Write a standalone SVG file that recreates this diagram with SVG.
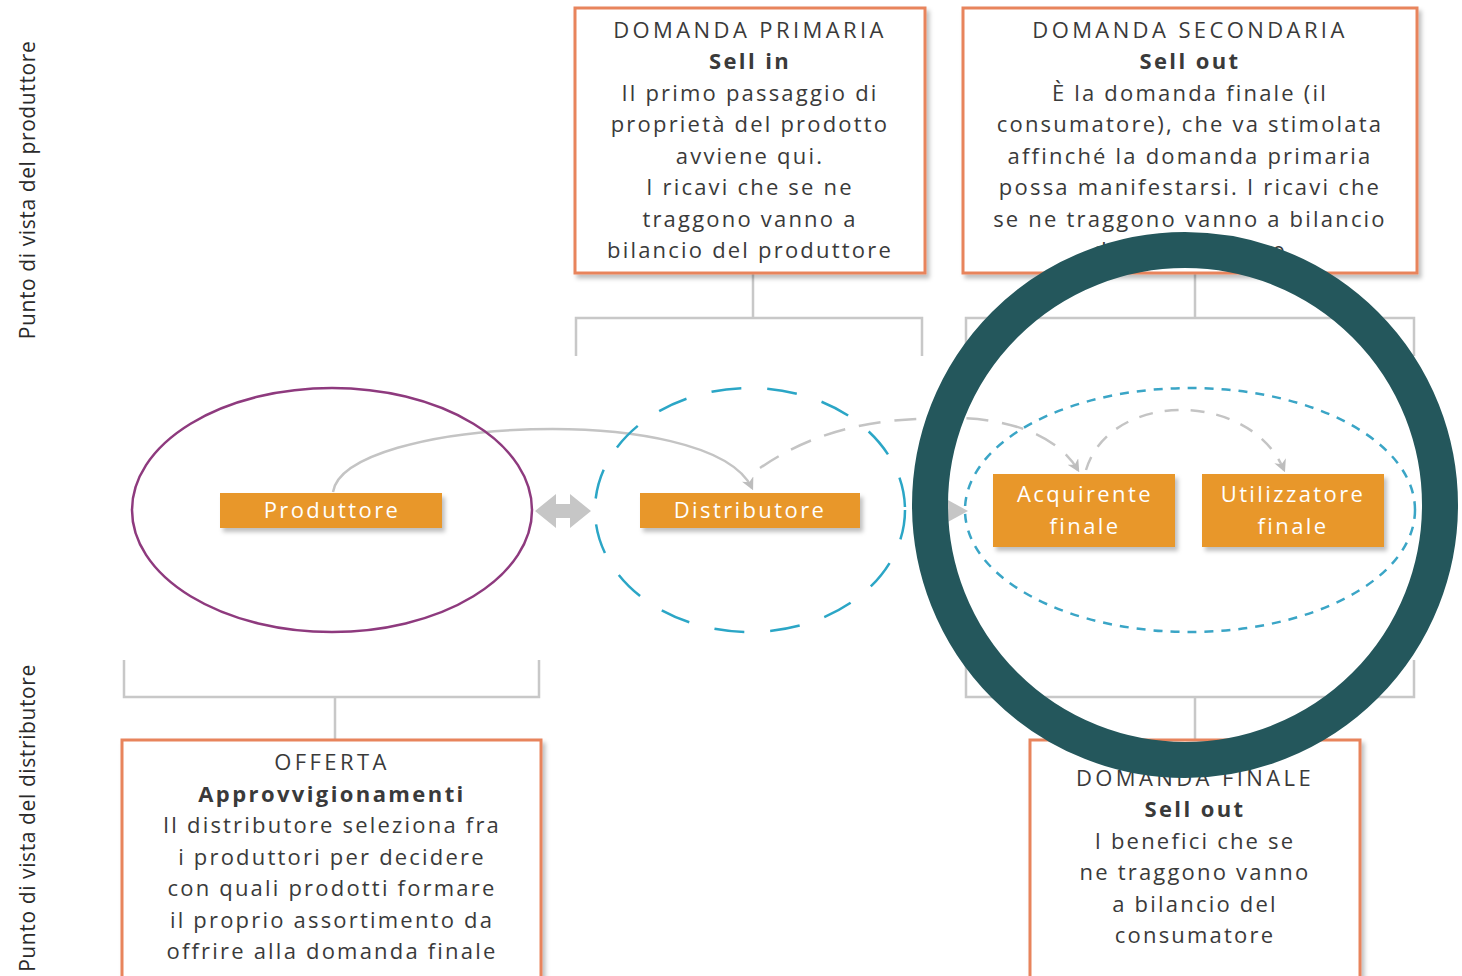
<svg xmlns="http://www.w3.org/2000/svg" width="1462" height="976" viewBox="0 0 1462 976">
<defs>
<style>
.bx{fill:#fff;stroke:#E8845C;stroke-width:3}
.t{font-family:"Open Sans","Noto Sans",sans-serif;font-size:22px;fill:#3a3a3a;text-anchor:middle;letter-spacing:2.2px}
.h{letter-spacing:3.4px}
.b{font-weight:bold;letter-spacing:2.4px}
.o{fill:#E8972B}
.ot{font-family:"Open Sans","Noto Sans",sans-serif;font-size:22px;fill:#fff;text-anchor:middle;letter-spacing:2.4px}
.br{fill:none;stroke:#c8c8c8;stroke-width:2.5}
.side{font-family:"Open Sans","Noto Sans",sans-serif;font-size:21px;fill:#2a2a2a;text-anchor:middle;letter-spacing:0.6px}
.ga{fill:none;stroke:#c4c4c4;stroke-width:2.5}
</style>
<filter id="sh" x="-10%" y="-10%" width="130%" height="140%"><feDropShadow dx="3" dy="4" stdDeviation="2" flood-color="#000" flood-opacity="0.25"/></filter>
<marker id="ah" viewBox="0 0 10 10" refX="8" refY="5" markerWidth="5" markerHeight="5" orient="auto"><path d="M0,0 L10,5 L0,10 L3,5 z" fill="#bdbdbd"/></marker>
</defs>
<rect width="1462" height="976" fill="#fff"/>

<g id="side-labels">
<text class="side" transform="translate(35,190) rotate(-90)">Punto di vista del produttore</text>
<text class="side" transform="translate(35,818) rotate(-90)">Punto di vista del distributore</text>
</g>

<g id="connectors">
<path class="br" d="M753,273 V318 M576,356 V318 H922 V356"/>
<path class="br" d="M1195,273 V318 M966,356 V318 H1414 V356"/>
<path class="br" d="M124,660 V697 H539 V660 M335,697 V740"/>
<path class="br" d="M966,660 V697 H1414 V660 M1195,697 V740"/>
<path class="ga" d="M333,492 C345,418 710,400 752,488" marker-end="url(#ah)"/>
<path class="ga" stroke-dasharray="22,14" d="M760,468 C830,420 900,418 960,418 C1020,420 1060,440 1078,470" marker-end="url(#ah)"/>
<path class="ga" stroke-dasharray="14,12" d="M1086,470 C1110,390 1250,390 1284,470" marker-end="url(#ah)"/>
<path d="M535,511 L556,494 L556,504 L570,504 L570,494 L591,511 L570,528 L570,518 L556,518 L556,528 Z" fill="#c6c6c6"/>
<path d="M935,493 L968,511 L935,529 Z" fill="#c6c6c6"/>
</g>

<g id="ellipses">
<ellipse cx="332" cy="510" rx="200" ry="122" fill="none" stroke="#8E3A7E" stroke-width="2.5"/>
<ellipse cx="750" cy="510" rx="155" ry="122" fill="none" stroke="#2BA6C6" stroke-width="2.5" stroke-dasharray="30,26"/>
<ellipse cx="1190" cy="510" rx="225" ry="122" fill="none" stroke="#3AA5C6" stroke-width="2.5" stroke-dasharray="9,8"/>
</g>

<g id="domanda-primaria">
<rect class="bx" x="575" y="8" width="350" height="265" filter="url(#sh)"/>
<text class="t h" x="750" y="38">DOMANDA PRIMARIA</text>
<text class="t b" x="750" y="69">Sell in</text>
<text class="t" x="750" y="101">Il primo passaggio di</text>
<text class="t" x="750" y="132">proprietà del prodotto</text>
<text class="t" x="750" y="164">avviene qui.</text>
<text class="t" x="750" y="195">I ricavi che se ne</text>
<text class="t" x="750" y="227">traggono vanno a</text>
<text class="t" x="750" y="258">bilancio del produttore</text>
</g>

<g id="domanda-secondaria">
<rect class="bx" x="963" y="8" width="454" height="265" filter="url(#sh)"/>
<text class="t h" x="1190" y="38">DOMANDA SECONDARIA</text>
<text class="t b" x="1190" y="69">Sell out</text>
<text class="t" x="1190" y="101">È la domanda finale (il</text>
<text class="t" x="1190" y="132">consumatore), che va stimolata</text>
<text class="t" x="1190" y="164">affinché la domanda primaria</text>
<text class="t" x="1190" y="195">possa manifestarsi. I ricavi che</text>
<text class="t" x="1190" y="227">se ne traggono vanno a bilancio</text>
<text class="t" x="1190" y="258">del distributore</text>
</g>

<g id="offerta">
<rect class="bx" x="122" y="740" width="419" height="250" filter="url(#sh)"/>
<text class="t h" x="332" y="770">OFFERTA</text>
<text class="t b" x="332" y="802">Approvvigionamenti</text>
<text class="t" x="332" y="833">Il distributore seleziona fra</text>
<text class="t" x="332" y="865">i produttori per decidere</text>
<text class="t" x="332" y="896">con quali prodotti formare</text>
<text class="t" x="332" y="928">il proprio assortimento da</text>
<text class="t" x="332" y="959">offrire alla domanda finale</text>
</g>

<g id="domanda-finale">
<rect class="bx" x="1030" y="740" width="330" height="250" filter="url(#sh)"/>
<text class="t h" x="1195" y="786">DOMANDA FINALE</text>
<text class="t b" x="1195" y="817">Sell out</text>
<text class="t" x="1195" y="849">I benefici che se</text>
<text class="t" x="1195" y="880">ne traggono vanno</text>
<text class="t" x="1195" y="912">a bilancio del</text>
<text class="t" x="1195" y="943">consumatore</text>
</g>

<g id="produttore">
<rect class="o" x="220" y="493" width="222" height="35" filter="url(#sh)"/>
<text class="ot" x="332" y="518">Produttore</text>
</g>
<g id="distributore">
<rect class="o" x="640" y="493" width="220" height="35" filter="url(#sh)"/>
<text class="ot" x="750" y="518">Distributore</text>
</g>
<g id="acquirente-finale">
<rect class="o" x="993" y="474" width="182" height="73" filter="url(#sh)"/>
<text class="ot" x="1085" y="502">Acquirente</text>
<text class="ot" x="1085" y="534">finale</text>
</g>
<g id="utilizzatore-finale">
<rect class="o" x="1202" y="474" width="182" height="73" filter="url(#sh)"/>
<text class="ot" x="1293" y="502">Utilizzatore</text>
<text class="ot" x="1293" y="534">finale</text>
</g>

<g id="highlight-circle">
<circle cx="1185" cy="505" r="255" fill="none" stroke="#24575C" stroke-width="36"/>
</g>
</svg>
